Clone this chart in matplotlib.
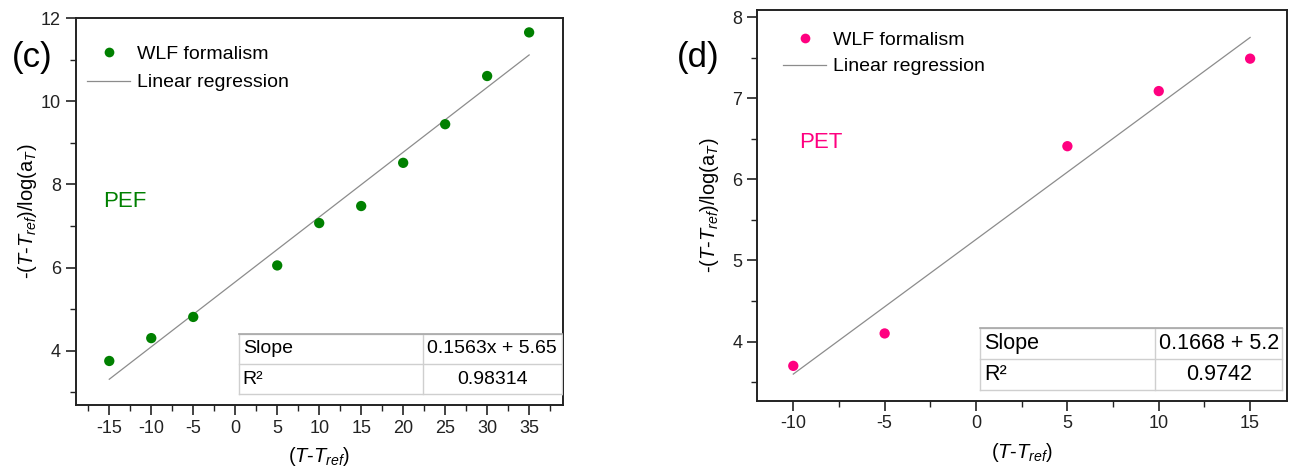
import matplotlib
matplotlib.use("Agg")
import matplotlib.pyplot as plt
from matplotlib.lines import Line2D
from matplotlib.ticker import MultipleLocator
import numpy as np

# ---- data
pef_x = [-15, -10, -5, 5, 10, 15, 20, 25, 30, 35]
pef_y = [3.75, 4.30, 4.81, 6.05, 7.07, 7.48, 8.52, 9.45, 10.61, 11.66]
pet_x = [-10, -5, 5, 10, 15]
pet_y = [3.70, 4.10, 6.41, 7.09, 7.49]

pef_table = [("Slope", "0.1563x + 5.65"), ("R²", "0.98314")]
pet_table = [("Slope", "0.1668 + 5.2"), ("R²", "0.9742")]

GREEN = "#008000"
PINK = "#ff0080"
FIT = "#8c8c8c"
INK = "#222222"
TGRID = "#cfcfcf"

plt.rcParams.update({
    "font.family": "Liberation Sans",
    "mathtext.fontset": "custom",
    "mathtext.rm": "Liberation Sans",
    "mathtext.it": "Liberation Sans:italic",
    "axes.unicode_minus": False,
    "font.size": 10,
    "axes.edgecolor": INK,
    "axes.linewidth": 1.4,
    "xtick.direction": "out",
    "ytick.direction": "out",
    "xtick.major.size": 7, "ytick.major.size": 7,
    "xtick.minor.size": 4, "ytick.minor.size": 4,
    "xtick.major.width": 1.2, "ytick.major.width": 1.2,
    "xtick.minor.width": 1.0, "ytick.minor.width": 1.0,
    "xtick.labelsize": 13, "ytick.labelsize": 13,
})

YLAB = r"-($\mathit{T}$-$\mathit{T}_{\mathit{ref}}$)/log(a$_{\mathit{T}}$)"
XLAB = r"($\mathit{T}$-$\mathit{T}_{\mathit{ref}}$)"


def table(ax, rows, x0, x1, xdiv, y0, y1, fs):
    # two-row summary box in axes fraction
    ymid = (y0 + y1) / 2
    kw = dict(transform=ax.transAxes, color=TGRID, lw=1.0, zorder=4)
    ax.plot([x0, x1], [y1, y1], **kw)
    ax.plot([x0, x1], [ymid, ymid], **kw)
    ax.plot([x0, x1], [y0, y0], **kw)
    ax.plot([x0, x0], [y0, y1], **kw)
    ax.plot([x1, x1], [y0, y1], **kw)
    ax.plot([xdiv, xdiv], [y0, y1], **kw)
    ax.plot([x0, x1], [y1, y1], transform=ax.transAxes, color="#a8a8a8",
            lw=1.2, zorder=5)
    for (k, v), yc in zip(rows, [(ymid + y1) / 2, (y0 + ymid) / 2]):
        ax.text(x0 + 0.008, yc, k, transform=ax.transAxes, ha="left",
                va="center", fontsize=fs, color="black", zorder=6)
        ax.text((xdiv + x1) / 2, yc, v, transform=ax.transAxes, ha="center",
                va="center", fontsize=fs, color="black", zorder=6)


def panel(ax, x, y, color, ylab_x):
    coef = np.polyfit(x, y, 1)
    xf = np.array([min(x), max(x)])
    ax.plot(xf, np.polyval(coef, xf), color=FIT, lw=0.9, zorder=2)
    ax.scatter(x, y, s=55, color=color, edgecolor="none", zorder=3)
    ax.set_xlabel(XLAB, fontsize=14.5, va="center")
    ax.set_ylabel(YLAB, fontsize=14.5, va="center")
    ax.xaxis.set_label_coords(0.5, -0.133)
    ax.yaxis.set_label_coords(ylab_x, 0.5)
    ax.tick_params(top=False, right=False, colors=INK, labelcolor=INK)
    ax.tick_params(which="minor", top=False, right=False, colors=INK)
    return coef


fig = plt.figure(figsize=(12.96, 4.7), dpi=100)
axL = fig.add_axes([0.0584, 0.1383, 0.3758, 0.8228])
axR = fig.add_axes([0.5839, 0.1474, 0.4089, 0.8313])

# ---- (c) PEF
panel(axL, pef_x, pef_y, GREEN, -0.098)
axL.set_xlim(-19, 39)
axL.set_ylim(2.69, 12)
axL.xaxis.set_major_locator(MultipleLocator(5))
axL.xaxis.set_minor_locator(MultipleLocator(2.5))
axL.yaxis.set_major_locator(MultipleLocator(2))
axL.yaxis.set_minor_locator(MultipleLocator(1))
table(axL, pef_table, 0.335, 0.9975, 0.713, 0.028, 0.184, 14)
axL.text(0.056, 0.525, "PEF", transform=axL.transAxes, color=GREEN,
         fontsize=16, va="center", ha="left")
fig.text(32 / 1296, 1 - 58 / 470, "(c)", fontsize=25, ha="center", va="center")
hL = [Line2D([], [], ls="none", marker="o", ms=7, color=GREEN, mec="none"),
      Line2D([], [], color=FIT, lw=0.9)]
axL.legend(hL, ["WLF formalism", "Linear regression"], loc="upper left",
           bbox_to_anchor=(0.0, 0.96), frameon=False, fontsize=14,
           handlelength=2.2, handletextpad=0.35, labelspacing=0.55,
           borderaxespad=0.2)

# ---- (d) PET
panel(axR, pet_x, pet_y, PINK, -0.09)
axR.set_xlim(-12, 17)
axR.set_ylim(3.27, 8.09)
axR.xaxis.set_major_locator(MultipleLocator(5))
axR.xaxis.set_minor_locator(MultipleLocator(2.5))
axR.yaxis.set_major_locator(MultipleLocator(1))
axR.yaxis.set_minor_locator(MultipleLocator(0.5))
table(axR, pet_table, 0.421, 0.992, 0.7515, 0.027, 0.185, 15.5)
axR.text(0.080, 0.66, "PET", transform=axR.transAxes, color=PINK,
         fontsize=16, va="center", ha="left")
fig.text(698 / 1296, 1 - 58 / 470, "(d)", fontsize=25, ha="center", va="center")
hR = [Line2D([], [], ls="none", marker="o", ms=7, color=PINK, mec="none"),
      Line2D([], [], color=FIT, lw=0.9)]
axR.legend(hR, ["WLF formalism", "Linear regression"], loc="upper left",
           bbox_to_anchor=(0.028, 0.975), frameon=False, fontsize=14,
           handlelength=2.2, handletextpad=0.35, labelspacing=0.45,
           borderaxespad=0.2)

fig.savefig("out.png", dpi=100)
